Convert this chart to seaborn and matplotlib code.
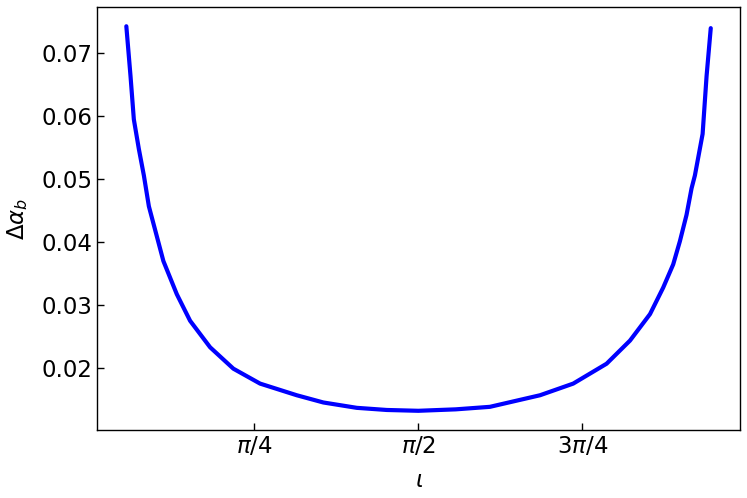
import numpy as np
import pandas as pd
import matplotlib
matplotlib.use("Agg")
import matplotlib.pyplot as plt
import seaborn as sns

# values (inclination in rad, Delta alpha_b)
iota = [0.172, 0.192, 0.208, 0.232, 0.256, 0.280, 0.3496, 0.4138, 0.4775,
        0.5733, 0.6848, 0.8127, 0.9884, 1.116, 1.276, 1.420, 1.571, 1.750,
        1.914, 2.154, 2.313, 2.473, 2.585, 2.681, 2.744, 2.792, 2.824,
        2.856, 2.880, 2.896, 2.933, 2.952, 2.972]
delta_alpha = [0.0743, 0.0664, 0.0595, 0.0548, 0.0506, 0.0457, 0.0370,
               0.03174, 0.02752, 0.02331, 0.01991, 0.01754, 0.01569, 0.01454,
               0.01369, 0.01335, 0.01322, 0.01345, 0.01385, 0.01569, 0.01754,
               0.0207, 0.02437, 0.02858, 0.03278, 0.03647, 0.04014, 0.04435,
               0.04855, 0.0506, 0.0572, 0.0664, 0.0740]

tick_pos = [np.pi / 4, np.pi / 2, 3 * np.pi / 4]
tick_labels = [r'$\pi/4$', r'$\pi/2$', r'$3\pi/4$']

df = pd.DataFrame({'iota': iota, 'da': delta_alpha})

sns.set_style("ticks")
plt.rcParams['font.family'] = ['DejaVu Sans']
plt.rcParams['mathtext.fontset'] = 'dejavusans'
plt.rcParams['text.color'] = 'black'
plt.rcParams['axes.labelcolor'] = 'black'
plt.rcParams['xtick.color'] = 'black'
plt.rcParams['ytick.color'] = 'black'

fig = plt.figure(figsize=(7.47, 4.98), dpi=100)
ax = fig.add_axes([0.130, 0.1365, 0.8606, 0.8494])

sns.lineplot(data=df, x='iota', y='da', color='blue', linewidth=3,
             estimator=None, sort=False, ax=ax)

ax.set_xticks(tick_pos)
ax.set_xticklabels(tick_labels)
ax.tick_params(direction='in', length=5, width=1, labelsize=16.5,
               colors='black')
ax.set_xlabel(r'$\iota$', fontsize=16.5, labelpad=8)
ax.set_ylabel(r'$\Delta\alpha_b$', fontsize=16.5, labelpad=8)
for s in ax.spines.values():
    s.set_linewidth(1)
    s.set_color('black')

fig.savefig('out.png', dpi=100)
